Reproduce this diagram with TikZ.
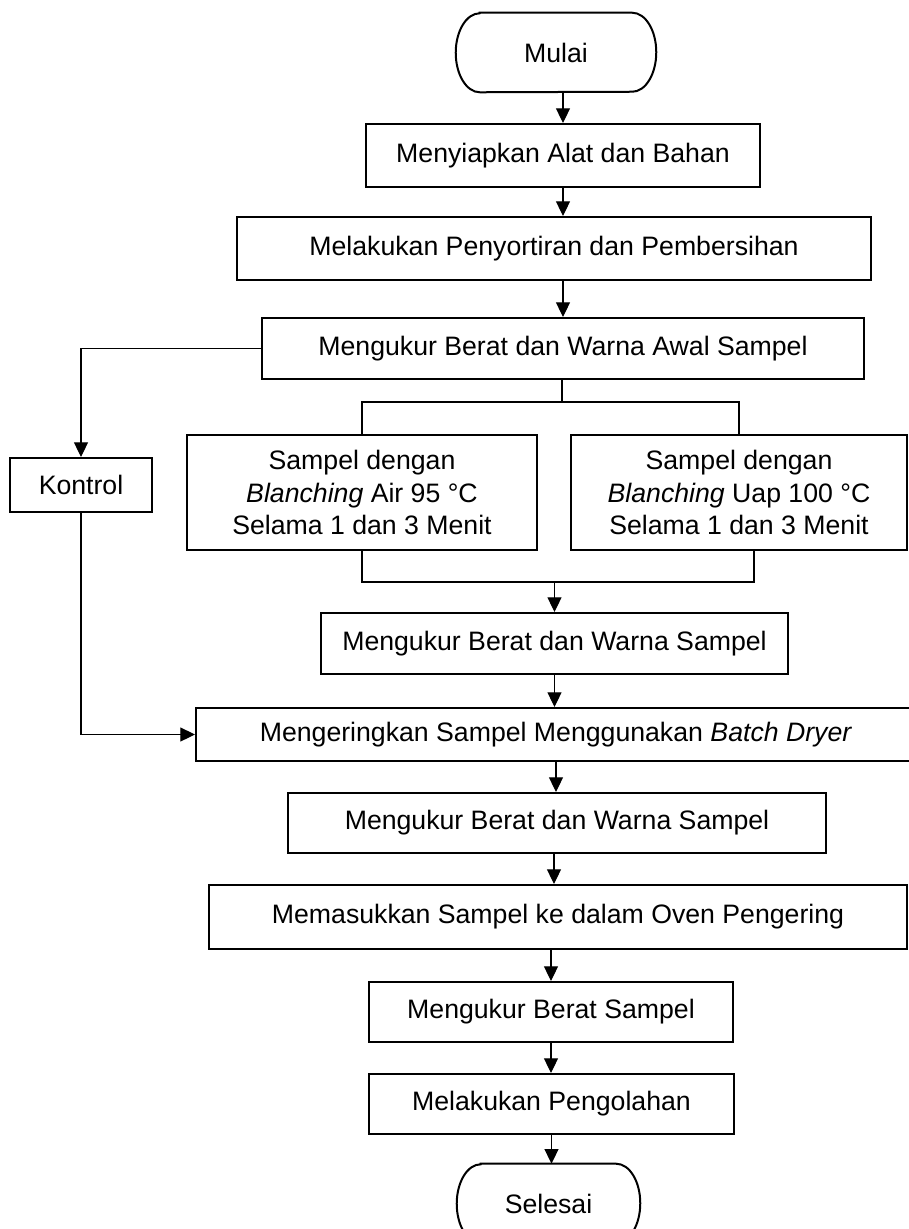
\documentclass[tikz,border=0pt]{standalone}
\usepackage{fontspec}
\setmainfont{Liberation Sans}
\usetikzlibrary{arrows.meta}

\begin{document}
\begin{tikzpicture}[x=0.75pt,y=0.75pt,yscale=-1,xscale=1,
        teks/.style={inner sep=0pt,align=center,font=\fontsize{20}{24.4}\selectfont},
        proses/.style={teks,draw,line width=1.5pt},
        tepi/.style={line width=1.5pt},
        garis/.style={line width=0.8pt},
        panah/.style={line width=0.8pt,-{Triangle[length=11pt,width=10.5pt]}}]
        \useasboundingbox (0,0) rectangle (908,1229);

        %Shape: Terminal [id:mulai]
        \node [teks,minimum width=150pt,minimum height=59.25pt] (mulai) at (556,52.5) {Mulai};
        \draw [tepi] ([xshift=18pt]mulai.north west) -- ([xshift=-18pt]mulai.north east) arc[start angle=-90,end angle=90,x radius=24,y radius=39.5] -- ([xshift=18pt]mulai.south west) arc[start angle=90,end angle=270,x radius=24,y radius=39.5] -- cycle;
        %Shape: Rectangle [id:siap]
        \node [proses,minimum width=295.5pt,minimum height=47.25pt] (siap) at (563,155.5) {Menyiapkan Alat dan Bahan};
        %Shape: Rectangle [id:sortir]
        \node [proses,minimum width=475.5pt,minimum height=47.25pt] (sortir) at (554,248.5) {Melakukan Penyortiran dan Pembersihan};
        %Shape: Rectangle [id:ukurawal]
        \node [proses,minimum width=451.5pt,minimum height=45.75pt] (ukurawal) at (563,348.5) {Mengukur Berat dan Warna Awal Sampel};
        %Shape: Rectangle [id:kontrol]
        \node [proses,minimum width=106.5pt,minimum height=40.5pt] (kontrol) at (81,485) {Kontrol};
        %Shape: Rectangle [id:air]
        \node [proses,minimum width=262.5pt,minimum height=86.25pt] (air) at (362,492.5) {Sampel dengan\\\textit{Blanching} Air 95 °C\\Selama 1 dan 3 Menit};
        %Shape: Rectangle [id:uap]
        \node [proses,minimum width=252pt,minimum height=86.25pt] (uap) at (739,492.5) {Sampel dengan\\\textit{Blanching} Uap 100 °C\\Selama 1 dan 3 Menit};
        %Shape: Rectangle [id:ukursatu]
        \node [proses,minimum width=350.25pt,minimum height=45.75pt] (ukursatu) at (554.5,643.5) {Mengukur Berat dan Warna Sampel};
        %Shape: Rectangle [id:kering]
        \node [proses,minimum width=540pt,minimum height=39.75pt] (kering) at (556,734.5) {Mengeringkan Sampel Menggunakan \textit{Batch Dryer}};
        %Shape: Rectangle [id:ukurdua]
        \node [proses,minimum width=403.5pt,minimum height=45pt] (ukurdua) at (557,823) {Mengukur Berat dan Warna Sampel};
        %Shape: Rectangle [id:oven]
        \node [proses,minimum width=523.5pt,minimum height=48pt] (oven) at (558,917) {Memasukkan Sampel ke dalam Oven Pengering};
        %Shape: Rectangle [id:berat]
        \node [proses,minimum width=273pt,minimum height=45pt] (berat) at (551,1012) {Mengukur Berat Sampel};
        %Shape: Rectangle [id:olah]
        \node [proses,minimum width=273.75pt,minimum height=45pt] (olah) at (551.5,1104) {Melakukan Pengolahan};
        %Shape: Terminal [id:selesai]
        \node [teks,minimum width=137.25pt,minimum height=59.25pt] (selesai) at (548.5,1203.5) {Selesai};
        \draw [tepi] ([xshift=18pt]selesai.north west) -- ([xshift=-18pt]selesai.north east) arc[start angle=-90,end angle=90,x radius=24,y radius=39.5] -- ([xshift=18pt]selesai.south west) arc[start angle=90,end angle=270,x radius=24,y radius=39.5] -- cycle;

        %Branch points
        \coordinate (cabang) at (562,402);
        \coordinate (gabungL) at (362,582);
        \coordinate (gabungR) at (754,582);

        %Straight Lines
        \draw [panah] (mulai.south -| siap.north) -- (siap.north);
        \draw [panah] (siap.south) -- (siap.south |- sortir.north);
        \draw [panah] (sortir.south -| ukurawal.north) -- (ukurawal.north);
        \draw [panah] (ukurawal.west) -| (kontrol.north);
        \draw [garis] (ukurawal.south -| cabang) -- (cabang);
        \draw [garis] (cabang) -| (air.north);
        \draw [garis] (cabang) -| (uap.north);
        \draw [garis] (air.south) -- (gabungL) -- (gabungR) -- (gabungR |- uap.south);
        \draw [panah] (gabungL -| ukursatu.north) -- (ukursatu.north);
        \draw [panah] (ukursatu.south) -- (ukursatu.south |- kering.north);
        \draw [panah] (kontrol.south) |- (kering.west);
        \draw [panah] (kering.south) -- (kering.south |- ukurdua.north);
        \draw [panah] (ukurdua.south -| 554,0) -- (oven.north -| 554,0);
        \draw [panah] (oven.south -| berat.north) -- (berat.north);
        \draw [panah] (berat.south) -- (olah.north -| berat.south);
        \draw [panah] (olah.south) -- (olah.south |- selesai.north);
    \end{tikzpicture}
\end{document}
